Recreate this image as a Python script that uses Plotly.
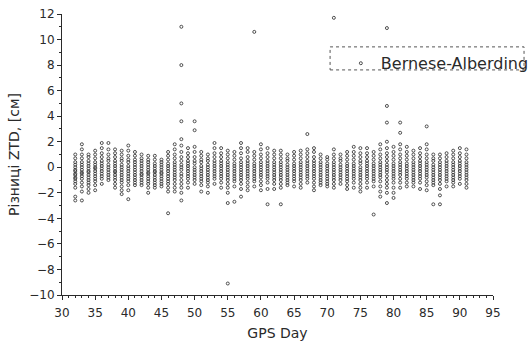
import plotly.graph_objects as go

# GPS days (one column of ZTD differences per day)
days = list(range(32, 92))

# ZTD differences [cm], one list per day (32 ... 91)
ztd_by_day = [
    [1.0, 0.7, 0.4, 0.2, 0.0, -0.2, -0.3, -0.5, -0.6, -0.8, -0.9, -1.1, -1.3, -1.6, -2.3, -2.6],   # 32
    [1.8, 1.4, 1.0, 0.7, 0.4, 0.2, 0.0, -0.2, -0.4, -0.5, -0.7, -0.9, -1.2, -1.5, -1.9, -2.6],     # 33
    [1.0, 0.8, 0.5, 0.3, 0.1, -0.1, -0.3, -0.4, -0.6, -0.8, -1.0, -1.2, -1.4, -1.7, -2.0],         # 34
    [1.3, 1.0, 0.7, 0.4, 0.2, 0.0, -0.1, -0.3, -0.5, -0.7, -0.9, -1.1, -1.4, -1.8],                # 35
    [1.9, 1.5, 1.1, 0.8, 0.5, 0.3, 0.1, -0.1, -0.3, -0.5, -0.7, -0.9, -1.3],                       # 36
    [1.9, 1.4, 1.0, 0.7, 0.5, 0.2, 0.0, -0.2, -0.4, -0.6, -0.8, -1.0],                             # 37
    [1.4, 1.1, 0.8, 0.5, 0.3, 0.1, -0.1, -0.3, -0.4, -0.6, -0.8, -1.0, -1.3, -1.6],                # 38
    [1.3, 1.0, 0.7, 0.5, 0.2, 0.0, -0.2, -0.4, -0.6, -0.8, -1.0, -1.2, -1.5, -1.8, -2.1],          # 39
    [1.7, 1.3, 0.9, 0.6, 0.4, 0.1, -0.1, -0.3, -0.5, -0.7, -0.9, -1.1, -1.4, -1.8, -2.5],          # 40
    [1.2, 0.9, 0.6, 0.4, 0.2, 0.0, -0.2, -0.4, -0.6, -0.8, -1.0, -1.2, -1.4],                      # 41
    [1.0, 0.7, 0.5, 0.3, 0.1, -0.1, -0.3, -0.5, -0.6, -0.8, -1.0, -1.2, -1.4],                     # 42
    [0.9, 0.6, 0.4, 0.2, 0.0, -0.2, -0.4, -0.5, -0.7, -0.9, -1.1, -1.3, -1.6, -2.0],               # 43
    [0.9, 0.6, 0.3, 0.1, -0.1, -0.3, -0.4, -0.6, -0.8, -1.0, -1.2, -1.4, -1.6],                    # 44
    [0.6, 0.4, 0.2, 0.0, -0.2, -0.4, -0.5, -0.7, -0.9, -1.1, -1.3, -1.5],                          # 45
    [1.2, 0.9, 0.6, 0.3, 0.1, -0.1, -0.3, -0.5, -0.7, -0.9, -1.1, -1.3, -1.6, -1.9, -3.6],         # 46
    [1.8, 1.4, 1.0, 0.7, 0.4, 0.2, 0.0, -0.2, -0.4, -0.6, -0.8, -1.0, -1.3, -1.6, -1.9],           # 47
    [11.0, 8.0, 5.0, 3.6, 2.2, 1.7, 1.2, 0.8, 0.5, 0.2, 0.0, -0.2, -0.5, -0.7, -1.0, -1.3, -1.6, -2.0, -2.6],  # 48
    [1.5, 1.1, 0.8, 0.5, 0.3, 0.1, -0.1, -0.3, -0.5, -0.7, -0.9, -1.2, -1.6],                      # 49
    [3.6, 2.9, 1.6, 1.2, 0.8, 0.5, 0.3, 0.0, -0.2, -0.4, -0.6, -0.8, -1.0, -1.3],                  # 50
    [1.2, 0.9, 0.6, 0.4, 0.1, -0.1, -0.3, -0.5, -0.7, -0.9, -1.1, -1.4, -1.9],                     # 51
    [1.0, 0.7, 0.5, 0.2, 0.0, -0.2, -0.4, -0.6, -0.8, -1.0, -1.2, -1.5, -2.0],                     # 52
    [1.9, 1.5, 1.1, 0.8, 0.5, 0.3, 0.1, -0.1, -0.3, -0.5, -0.7, -0.9, -1.3],                       # 53
    [1.5, 1.1, 0.8, 0.5, 0.3, 0.1, -0.1, -0.3, -0.5, -0.7, -0.9, -1.2, -1.6],                      # 54
    [1.3, 1.0, 0.7, 0.4, 0.2, 0.0, -0.2, -0.4, -0.6, -0.8, -1.0, -1.3, -1.6, -2.0, -2.8, -9.1],    # 55
    [1.2, 0.9, 0.6, 0.3, 0.1, -0.1, -0.3, -0.5, -0.7, -0.9, -1.1, -1.5, -2.7],                     # 56
    [1.9, 1.5, 1.1, 0.7, 0.4, 0.2, 0.0, -0.2, -0.4, -0.6, -0.8, -1.0, -1.3, -1.7, -2.3],           # 57
    [1.5, 1.2, 0.8, 0.5, 0.3, 0.1, -0.1, -0.3, -0.5, -0.7, -0.9, -1.2, -1.5, -1.8],                # 58
    [10.6, 1.2, 0.9, 0.6, 0.3, 0.1, -0.1, -0.3, -0.5, -0.7, -0.9, -1.1, -1.5],                     # 59
    [1.8, 1.4, 1.0, 0.7, 0.4, 0.2, 0.0, -0.2, -0.4, -0.6, -0.8, -1.1, -1.4, -1.8],                 # 60
    [1.5, 1.1, 0.8, 0.5, 0.3, 0.1, -0.1, -0.3, -0.5, -0.7, -0.9, -1.2, -1.7, -2.9],                # 61
    [1.3, 1.0, 0.7, 0.4, 0.2, 0.0, -0.2, -0.4, -0.6, -0.8, -1.0, -1.3, -1.7],                      # 62
    [1.3, 1.0, 0.7, 0.4, 0.2, 0.0, -0.2, -0.4, -0.6, -0.8, -1.0, -1.3, -1.6, -2.9],                # 63
    [1.0, 0.7, 0.5, 0.2, 0.0, -0.2, -0.4, -0.6, -0.8, -1.0, -1.2, -1.4],                           # 64
    [1.2, 0.9, 0.6, 0.3, 0.1, -0.1, -0.3, -0.5, -0.7, -0.9, -1.1, -1.5],                           # 65
    [1.3, 1.0, 0.7, 0.4, 0.2, 0.0, -0.2, -0.4, -0.6, -0.8, -1.0, -1.3, -1.6],                      # 66
    [2.6, 1.4, 1.1, 0.8, 0.5, 0.3, 0.1, -0.1, -0.3, -0.5, -0.7, -0.9, -1.2],                       # 67
    [1.5, 1.2, 0.8, 0.5, 0.3, 0.1, -0.1, -0.3, -0.5, -0.7, -0.9, -1.2, -1.5, -1.8],                # 68
    [1.0, 0.7, 0.4, 0.2, 0.0, -0.2, -0.4, -0.6, -0.8, -1.0, -1.2, -1.4],                           # 69
    [0.8, 0.6, 0.3, 0.1, -0.1, -0.3, -0.5, -0.7, -0.9, -1.1, -1.3, -1.5],                          # 70
    [11.7, 1.4, 1.0, 0.7, 0.4, 0.2, 0.0, -0.2, -0.4, -0.6, -0.8, -1.0, -1.3, -1.6],                # 71
    [1.0, 0.7, 0.5, 0.2, 0.0, -0.2, -0.4, -0.6, -0.8, -1.0, -1.3],                                 # 72
    [1.2, 0.9, 0.6, 0.3, 0.1, -0.1, -0.3, -0.5, -0.7, -0.9, -1.1, -1.4, -1.7],                     # 73
    [1.6, 1.2, 0.9, 0.6, 0.3, 0.1, -0.1, -0.3, -0.5, -0.7, -0.9, -1.2, -1.6],                      # 74
    [1.5, 1.1, 0.8, 0.5, 0.3, 0.0, -0.2, -0.4, -0.6, -0.8, -1.0, -1.3, -1.6, -1.9],                # 75
    [1.5, 1.1, 0.8, 0.5, 0.3, 0.1, -0.1, -0.3, -0.5, -0.7, -0.9, -1.2, -1.6],                      # 76
    [1.2, 0.9, 0.6, 0.3, 0.1, -0.1, -0.3, -0.5, -0.7, -0.9, -1.1, -1.5, -3.7],                     # 77
    [1.8, 1.4, 1.0, 0.7, 0.4, 0.2, 0.0, -0.2, -0.4, -0.6, -0.8, -1.1, -1.5, -1.9, -2.3],           # 78
    [10.9, 4.8, 3.5, 2.0, 1.5, 1.1, 0.8, 0.5, 0.2, 0.0, -0.2, -0.4, -0.7, -1.0, -1.3, -1.6, -2.0, -2.8],  # 79
    [1.6, 1.2, 0.9, 0.6, 0.3, 0.1, -0.1, -0.3, -0.5, -0.7, -0.9, -1.2, -1.6, -2.0, -2.4],          # 80
    [3.5, 2.7, 1.8, 1.4, 1.0, 0.7, 0.4, 0.2, 0.0, -0.2, -0.4, -0.6, -0.9, -1.2, -1.6],             # 81
    [1.6, 1.2, 0.9, 0.6, 0.3, 0.1, -0.1, -0.3, -0.5, -0.7, -0.9, -1.2, -1.5],                      # 82
    [1.3, 1.0, 0.7, 0.4, 0.2, 0.0, -0.2, -0.4, -0.6, -0.8, -1.0, -1.2, -1.5],                      # 83
    [1.5, 1.1, 0.8, 0.5, 0.3, 0.1, -0.1, -0.3, -0.5, -0.7, -0.9, -1.2, -1.7],                      # 84
    [3.2, 1.8, 1.4, 1.0, 0.7, 0.4, 0.2, 0.0, -0.2, -0.4, -0.6, -0.8, -1.1, -1.4, -1.8],            # 85
    [1.0, 0.7, 0.5, 0.2, 0.0, -0.2, -0.4, -0.6, -0.8, -1.0, -1.2, -1.4, -2.9],                     # 86
    [1.0, 0.7, 0.4, 0.2, 0.0, -0.2, -0.4, -0.6, -0.8, -1.0, -1.3, -1.7, -2.2, -2.9],               # 87
    [1.1, 0.8, 0.5, 0.3, 0.1, -0.1, -0.3, -0.5, -0.7, -0.9, -1.1, -1.5],                           # 88
    [1.3, 1.0, 0.7, 0.4, 0.2, 0.0, -0.2, -0.4, -0.6, -0.8, -1.0, -1.2, -1.5],                      # 89
    [1.5, 1.1, 0.8, 0.5, 0.3, 0.1, -0.1, -0.3, -0.5, -0.7, -0.9, -1.3],                            # 90
    [1.4, 1.0, 0.7, 0.4, 0.2, 0.0, -0.2, -0.4, -0.6, -0.8, -1.0, -1.3, -1.6],                      # 91
]

series_name = "Bernese-Alberding"
x_title = "GPS Day"
y_title = "Різниці ZTD, [см]"

xs, ys = [], []
for d, vals in zip(days, ztd_by_day):
    for v in vals:
        xs.append(d)
        ys.append(v)

FONT = "DejaVu Sans"
INK = "#2a2a2a"

fig = go.Figure()
fig.add_trace(go.Scatter(
    x=xs, y=ys, mode="markers", name=series_name,
    marker=dict(symbol="circle-open", size=3, color="#333333",
                line=dict(width=1, color="#333333"), opacity=0.85),
))

axis_common = dict(
    showline=True, linecolor=INK, linewidth=1, mirror=False,
    showgrid=False, zeroline=False, automargin=False,
    ticks="outside", ticklen=4, tickwidth=1, tickcolor=INK,
    tickfont=dict(family=FONT, size=12, color=INK),
)

fig.update_xaxes(
    range=[30, 95], dtick=5, tick0=30, ticklabelstandoff=3,
    minor=dict(dtick=1, ticks="outside", ticklen=2, tickcolor=INK, showgrid=False),
    title=dict(text=x_title, font=dict(family=FONT, size=14, color=INK), standoff=8),
    **axis_common,
)
fig.update_yaxes(
    range=[-10, 12], dtick=2, tick0=0,
    minor=dict(dtick=1, ticks="outside", ticklen=2, tickcolor=INK, showgrid=False),
    title=dict(text=y_title, font=dict(family=FONT, size=14, color=INK), standoff=6),
    **axis_common,
)

fig.update_layout(
    width=529, height=344,
    margin=dict(l=62, r=36, t=14, b=49, autoexpand=False),
    paper_bgcolor="white", plot_bgcolor="white",
    showlegend=True,
    legend=dict(
        x=0.647, y=0.885, xanchor="left", yanchor="top",
        bgcolor="rgba(0,0,0,0)", borderwidth=0,
        font=dict(family=FONT, size=16, color=INK),
    ),
    shapes=[dict(
        type="rect", xref="paper", yref="paper",
        x0=0.622, x1=1.072, y0=0.801, y1=0.883,
        line=dict(color="#555", width=1, dash="dot"),
    )],
)

# remove the default 8px page margin so the figure fills the window exactly
fig.write_html("out.html", config={"displayModeBar": False},
               post_script="document.body.style.margin='0px';")
